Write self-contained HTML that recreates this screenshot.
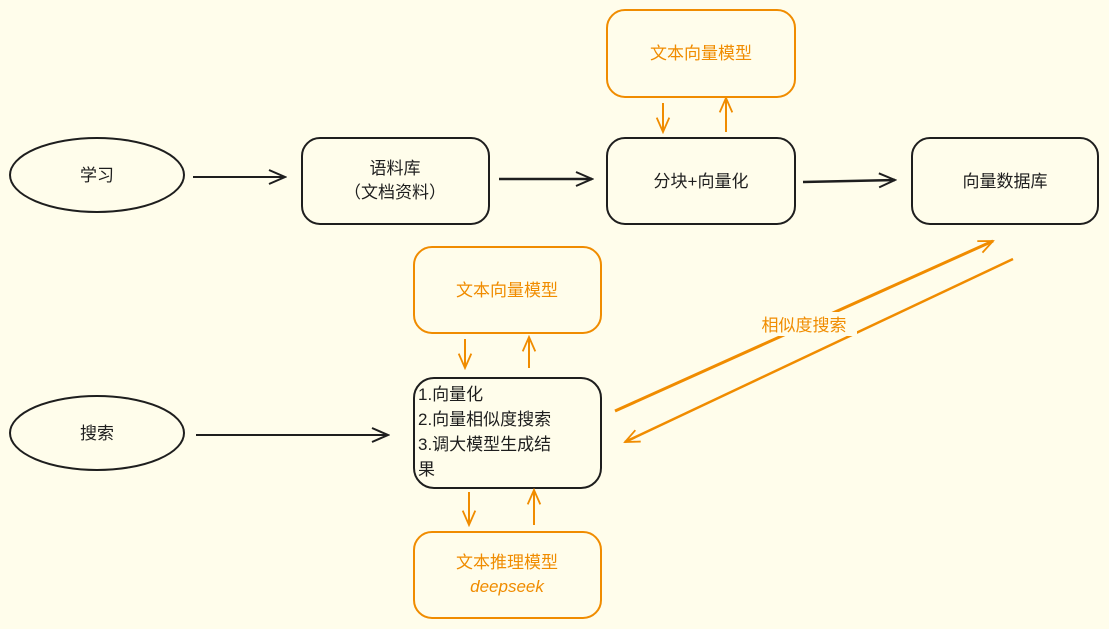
<!DOCTYPE html>
<html><head><meta charset="utf-8"><style>
html,body{margin:0;padding:0;background:#fffdeb;}
svg{display:block;}
text{font-family:"Liberation Sans","Noto Sans CJK SC",sans-serif;font-size:17px;}
</style></head><body>
<svg width="1109" height="629" viewBox="0 0 1109 629" xmlns="http://www.w3.org/2000/svg">
<defs>
<marker id="ab" viewBox="0 0 20 20" refX="18" refY="10" markerWidth="20" markerHeight="20" markerUnits="userSpaceOnUse" orient="auto"><path d="M2,3 L18,10 L2,17" fill="none" stroke="#1e1e1e" stroke-width="2"/></marker>
<marker id="ao" viewBox="0 0 20 20" refX="18" refY="10" markerWidth="18" markerHeight="18" markerUnits="userSpaceOnUse" orient="auto"><path d="M2,3 L18,10 L2,17" fill="none" stroke="#f08c00" stroke-width="2"/></marker>
</defs>
<g fill="none" stroke="#1e1e1e" stroke-width="2">
<ellipse cx="97" cy="175" rx="87" ry="37"/>
<ellipse cx="97" cy="433" rx="87" ry="37"/>
<rect x="302" y="138" width="187" height="86" rx="18"/>
<rect x="607" y="138" width="188" height="86" rx="18"/>
<rect x="912" y="138" width="186" height="86" rx="18"/>
<rect x="414" y="378" width="187" height="110" rx="20"/>
<line x1="193" y1="177" x2="285" y2="177" marker-end="url(#ab)"/>
<line x1="499" y1="179" x2="592" y2="179" marker-end="url(#ab)" stroke-width="2.5"/>
<line x1="803" y1="182" x2="895" y2="180" marker-end="url(#ab)" stroke-width="2.5"/>
<line x1="196" y1="435" x2="388" y2="435" marker-end="url(#ab)"/>
</g>
<g fill="none" stroke="#f08c00" stroke-width="2">
<rect x="607" y="10" width="188" height="87" rx="18"/>
<rect x="414" y="247" width="187" height="86" rx="18"/>
<rect x="414" y="532" width="187" height="86" rx="18"/>
<line x1="663" y1="103" x2="663" y2="132" marker-end="url(#ao)"/>
<line x1="726" y1="132" x2="726" y2="98" marker-end="url(#ao)"/>
<line x1="465" y1="339" x2="465" y2="368" marker-end="url(#ao)"/>
<line x1="529" y1="368" x2="529" y2="337" marker-end="url(#ao)"/>
<line x1="469" y1="492" x2="469" y2="525" marker-end="url(#ao)"/>
<line x1="534" y1="525" x2="534" y2="490" marker-end="url(#ao)"/>
<line x1="615" y1="411" x2="993" y2="241" marker-end="url(#ao)" stroke-width="3"/>
<line x1="1013" y1="259" x2="625" y2="442" marker-end="url(#ao)" stroke-width="2.5"/>
</g>
<rect x="752" y="312" width="105" height="24" fill="#fffdeb"/>
<g fill="#1e1e1e">
<text x="97" y="181" text-anchor="middle">学习</text>
<text x="97" y="439" text-anchor="middle">搜索</text>
<text x="395" y="174" text-anchor="middle">语料库</text>
<text x="395" y="198" text-anchor="middle">（文档资料）</text>
<text x="701" y="187" text-anchor="middle">分块+向量化</text>
<text x="1005" y="187" text-anchor="middle">向量数据库</text>
<text x="418" y="400">1.向量化</text>
<text x="418" y="425">2.向量相似度搜索</text>
<text x="418" y="450">3.调大模型生成结</text>
<text x="418" y="475">果</text>
</g>
<g fill="#f08c00">
<text x="701" y="59" text-anchor="middle">文本向量模型</text>
<text x="507" y="296" text-anchor="middle">文本向量模型</text>
<text x="507" y="568" text-anchor="middle">文本推理模型</text>
<text x="507" y="592" text-anchor="middle" font-style="italic">deepseek</text>
<text x="804" y="331" text-anchor="middle">相似度搜索</text>
</g>
</svg>
</body></html>
